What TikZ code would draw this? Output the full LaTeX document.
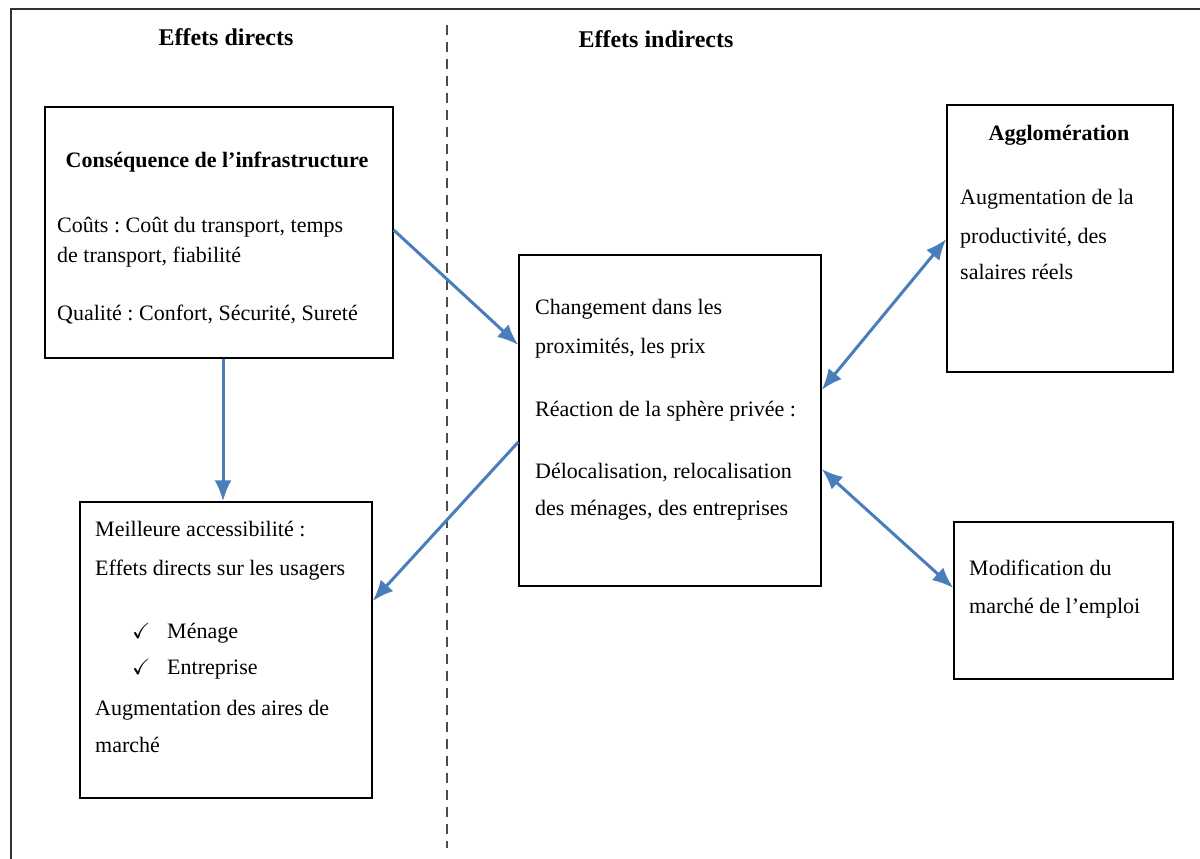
\documentclass[tikz,border=0pt]{standalone}
\usepackage{amssymb}
\usepackage{fontspec}
\setmainfont{Liberation Serif}
\usetikzlibrary{arrows.meta}
\definecolor{arrblue}{RGB}{74,126,187}
\frenchspacing
\begin{document}
\begin{tikzpicture}[x=1pt,y=-1pt,
  box/.style={draw=black,line width=1.4pt,rectangle,inner sep=0pt},
  txt/.style={anchor=base west,inner sep=0pt,font=\fontsize{22}{26}\selectfont},
  ttl/.style={anchor=base,inner sep=0pt,font=\fontsize{22}{26}\selectfont\bfseries},
  hdr/.style={anchor=base,inner sep=0pt,font=\fontsize{24}{28}\selectfont\bfseries},
  tip/.tip={Latex[length=21pt,width=17pt]},
  conn/.style={draw=arrblue,line width=3pt,-tip},
  dconn/.style={draw=arrblue,line width=3pt,tip-tip},
  frame/.style={draw=black!80,line width=1.5pt},
  divider/.style={draw=black!70,line width=1.4pt,dash pattern=on 10pt off 7pt}]
\useasboundingbox (0,0) rectangle (1200,859);
% outer frame
\draw[frame] (11,859) -- (11,9) -- (1200,9);
% divider
\draw[divider] (447,25) -- (447,848);
% headings
\node[hdr] (h1) at (226,46) {Effets directs};
\node[hdr] (h2) at (656,48) {Effets indirects};
% boxes
\node[box,minimum width=348pt,minimum height=251pt] (A) at (219,232.5) {};
\node[box,minimum width=292pt,minimum height=296pt] (B) at (226,650) {};
\node[box,minimum width=302pt,minimum height=331pt] (C) at (670,420.5) {};
\node[box,minimum width=226pt,minimum height=267pt] (D) at (1060,238.5) {};
\node[box,minimum width=219pt,minimum height=157pt] (E) at (1063.5,600.5) {};
% box A text
\node[ttl] (a0) at (217,167) {Conséquence de l’infrastructure};
\node[txt] (a1) at (57,232) {Coûts : Coût du transport, temps};
\node[txt] (a2) at (57,262) {de transport, fiabilité};
\node[txt] (a3) at (57,320) {Qualité : Confort, Sécurité, Sureté};
% box B text
\node[txt] (b1) at (95,536) {Meilleure accessibilité :};
\node[txt] (b2) at (95,575) {Effets directs sur les usagers};
\node[txt] (b3c) at (132,638) {$\checkmark$};
\node[txt] (b3) at (167,638) {Ménage};
\node[txt] (b4c) at (132,674) {$\checkmark$};
\node[txt] (b4) at (167,674) {Entreprise};
\node[txt] (b5) at (95,715) {Augmentation des aires de};
\node[txt] (b6) at (95,752) {marché};
% box C text
\node[txt] (c1) at (535,314) {Changement dans les};
\node[txt] (c2) at (535,353) {proximités, les prix};
\node[txt] (c3) at (535,416) {Réaction de la sphère privée :};
\node[txt] (c4) at (535,478) {Délocalisation, relocalisation};
\node[txt] (c5) at (535,515) {des ménages, des entreprises};
% box D text
\node[ttl] (d0) at (1059,140) {Agglomération};
\node[txt] (d1) at (960,204) {Augmentation de la};
\node[txt] (d2) at (960,243) {productivité, des};
\node[txt] (d3) at (960,279) {salaires réels};
% box E text
\node[txt] (e1) at (969,575) {Modification du};
\node[txt] (e2) at (969,613) {marché de l’emploi};
% connectors
\draw[conn] (A.east |- 0,230) -- (C.west |- 0,345);
\draw[conn] (A.south -| 223,0) -- (B.north -| 223,0);
\draw[conn] (C.west |- 0,442) -- (B.east |- 0,601);
\draw[dconn] (C.east |- 0,390) -- (D.west |- 0,239);
\draw[dconn] (C.east |- 0,469) -- (E.west |- 0,588);
\end{tikzpicture}
\end{document}
